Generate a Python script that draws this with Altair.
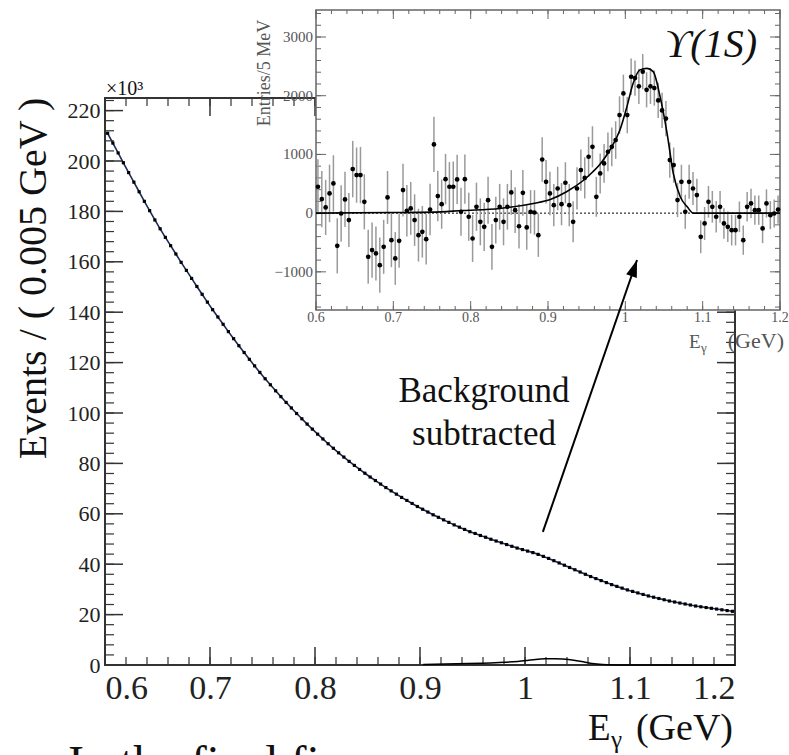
import altair as alt
import pandas as pd

SERIF = "Liberation Serif, Times New Roman, serif"

# ---------------- data ----------------
BIN_LO, BIN_W, N_BINS = 0.6, 0.005, 120
bin_centres = [round(BIN_LO + BIN_W * (i + 0.5), 4) for i in range(N_BINS)]

# main plot: events per 5 MeV bin, in units of 10^3
main_events_k = [
    211.0, 207.1, 203.2, 199.3, 195.4, 191.6, 187.8, 184.0, 180.3, 176.6,
    173.1, 169.7, 166.4, 163.1, 159.8, 156.6, 153.4, 150.2, 147.1, 144.0,
    141.0, 138.1, 135.2, 132.3, 129.5, 126.7, 124.0, 121.3, 118.7, 116.1,
    113.6, 111.2, 108.8, 106.5, 104.2, 102.0, 99.8, 97.7, 95.6, 93.6,
    91.6, 89.7, 87.8, 86.0, 84.2, 82.5, 80.8, 79.2, 77.6, 76.1,
    74.6, 73.2, 71.8, 70.4, 69.1, 67.8, 66.5, 65.3, 64.1, 62.9,
    61.8, 60.7, 59.6, 58.6, 57.6, 56.6, 55.6, 54.7, 53.8, 52.9,
    52.2, 51.4, 50.7, 49.9, 49.2, 48.5, 47.8, 47.1, 46.4, 45.8,
    45.2, 44.6, 43.9, 43.1, 42.3, 41.4, 40.5, 39.6, 38.7, 37.8,
    36.9, 36.0, 35.1, 34.3, 33.5, 32.7, 31.9, 31.2, 30.5, 29.8,
    29.2, 28.6, 28.0, 27.4, 26.9, 26.4, 25.9, 25.4, 25.0, 24.6,
    24.2, 23.8, 23.4, 23.1, 22.8, 22.5, 22.2, 21.9, 21.6, 21.3,
]

# inset: background-subtracted entries / 5 MeV and their errors
inset_entries = [
    449, 239, 97, 335, 506, -557, -6, 233, -119, 750,
    648, 648, 193, -744, -630, -687, -886, -574, 267, -460,
    -772, -471, 392, 40, 80, -119, -375, -318, -443, 62,
    1170, 290, 153, 579, 449, 449, 574, 23, 579, -62,
    -432, 108, -148, -233, 221, -574, -119, 108, -148, 108,
    352, 51, -223, 346, -244, 23, 11, -375, 914, 534,
    335, 136, 420, 153, 517, 136, -148, 420, 733, 600,
    960, 1130, 278, 676, 846, 1045, 1130, 1244, 1670, 2039,
    1670, 2323, 2300, 2160, 2410, 2100, 2160, 2130, 1920, 1750,
    1610, 903, 818, 222, 534, 23, 534, 420, 307, -403,
    -176, 193, 108, -62, 108, -176, -233, -290, -290, -62,
    -460, 108, 165, 51, 51, -261, 165, -34, -6, 60,
]
inset_errors = [
    470, 480, 470, 490, 480, 470, 480, 470, 460, 480,
    470, 480, 470, 460, 470, 460, 470, 460, 450, 460,
    450, 460, 450, 440, 450, 440, 450, 440, 430, 440,
    470, 430, 420, 430, 420, 430, 420, 410, 420, 410,
    400, 410, 400, 410, 400, 390, 400, 390, 400, 390,
    380, 390, 380, 390, 380, 370, 380, 370, 380, 370,
    370, 360, 370, 360, 350, 360, 350, 360, 350, 350,
    340, 350, 340, 340, 330, 330, 330, 320, 320, 320,
    310, 310, 300, 300, 300, 300, 300, 300, 300, 300,
    300, 300, 300, 290, 290, 290, 290, 280, 280, 280,
    280, 270, 270, 270, 270, 260, 260, 260, 260, 260,
    250, 250, 250, 250, 250, 250, 240, 240, 240, 240,
]

# signal fit curve (entries / 5 MeV)
fit_E = [0.60, 0.70, 0.75, 0.79, 0.838, 0.881, 0.903, 0.924, 0.946, 0.958,
         0.967, 0.980, 0.993, 1.002, 1.010, 1.019, 1.028, 1.036, 1.045,
         1.054, 1.062, 1.071, 1.080, 1.088, 1.20]
fit_entries = [0, 10, 17, 45, 80, 165, 233, 364, 560, 705,
               830, 1075, 1415, 1810, 2210, 2440, 2465, 2410, 1980,
               1360, 676, 278, 108, 0, 0]

main_x_ticks = [0.6, 0.7, 0.8, 0.9, 1.0, 1.1, 1.2]
main_y_ticks = [0, 20, 40, 60, 80, 100, 120, 140, 160, 180, 200, 220]
main_x_minor = [round(0.6 + 0.02 * i, 2) for i in range(31)]
main_y_minor = [4 * i for i in range(57)]
inset_x_labels = ["0.6", "0.7", "0.8", "0.9", "1", "1.1", "1.2"]
inset_y_ticks = [-1000, 0, 1000, 2000, 3000]
inset_y_minor = [-1600 + 200 * i for i in range(26)]

MAIN_X_DOMAIN = [0.6, 1.2]
MAIN_Y_DOMAIN = [0, 225]
INSET_Y_DOMAIN = [-1650, 3460]

# arrow (main-plot coordinates: GeV, 10^3 events)
arrow = pd.DataFrame({"x": [1.017], "y": [52.8], "x2": [1.1067], "y2": [160.7]})

# ---------------- layout ----------------
W, H = 630, 567
IX0, IX1 = 211, 675       # inset horizontal pixel range (inside plot group)
IYB, IYT = 212, -88       # inset vertical pixel range (bottom, top)

mx = alt.Scale(domain=MAIN_X_DOMAIN, nice=False, zero=False)
my = alt.Scale(domain=MAIN_Y_DOMAIN, nice=False, zero=False)
ix = alt.Scale(domain=MAIN_X_DOMAIN, range=[IX0, IX1], nice=False, zero=False)
iy = alt.Scale(domain=INSET_Y_DOMAIN, range=[IYB, IYT], nice=False, zero=False)

one = pd.DataFrame({"a": [0]})
main_df = pd.DataFrame({"E": bin_centres, "N": main_events_k})
inset_df = pd.DataFrame({"E": bin_centres, "v": inset_entries, "err": inset_errors})
inset_df["lo"] = inset_df["v"] - inset_df["err"]
inset_df["hi"] = inset_df["v"] + inset_df["err"]
fit_df = pd.DataFrame({"E": fit_E, "v": fit_entries})


def yticks(values, scale, x0, x1, color, width):
    return alt.Chart(pd.DataFrame({"v": values})).mark_rule(
        color=color, strokeWidth=width).encode(
        y=alt.Y("v:Q", scale=scale, axis=None), x=alt.value(x0), x2=alt.value(x1))


def xticks(values, scale, y0, y1, color, width):
    return alt.Chart(pd.DataFrame({"v": values})).mark_rule(
        color=color, strokeWidth=width).encode(
        x=alt.X("v:Q", scale=scale, axis=None), y=alt.value(y0), y2=alt.value(y1))


def label(text, x, y, size, align="left", baseline="alphabetic", color="#111", **kw):
    return alt.Chart(one).mark_text(
        text=text, font=SERIF, fontSize=size, align=align, baseline=baseline,
        color=color, **kw).encode(x=alt.value(x), y=alt.value(y))


layers = []

# main fit line carries the main axes' labels
main_line = alt.Chart(main_df).mark_line(color="#1c2a5a", strokeWidth=1.6).encode(
    x=alt.X("E:Q", scale=mx, axis=alt.Axis(
        orient="bottom", values=main_x_ticks, format="~g", ticks=False, domain=False,
        grid=False, labelFont=SERIF, labelFontSize=34, labelColor="#222",
        labelPadding=6, title=None)),
    y=alt.Y("N:Q", scale=my, axis=alt.Axis(
        orient="left", values=main_y_ticks, format="d", ticks=False, domain=False,
        grid=False, labelFont=SERIF, labelFontSize=22, labelColor="#222",
        labelPadding=5, title="Events / ( 0.005 GeV )", titleFont=SERIF,
        titleFontSize=40, titleFontWeight="normal", titleColor="#111",
        titleAngle=270, titleX=-72, titleY=180, titleAlign="center",
        titleBaseline="middle")),
)
layers.append(main_line)

# main frame and ticks (ticks point inwards)
FR = "#333"
layers.append(alt.Chart(one).mark_rect(fillOpacity=0, stroke=FR, strokeWidth=2).encode(
    x=alt.value(0), x2=alt.value(W), y=alt.value(0), y2=alt.value(H)))
layers += [
    yticks(main_y_ticks, my, 0, 18, FR, 1.5), yticks(main_y_minor, my, 0, 9, FR, 1.2),
    yticks(main_y_ticks, my, W, W - 18, FR, 1.5), yticks(main_y_minor, my, W, W - 9, FR, 1.2),
    xticks(main_x_ticks, mx, H, H - 18, FR, 1.5), xticks(main_x_minor, mx, H, H - 8, FR, 1.2),
    xticks(main_x_ticks, mx, 0, 18, FR, 1.5), xticks(main_x_minor, mx, 0, 8, FR, 1.2),
]

# main data points
layers.append(alt.Chart(main_df).mark_square(size=10, color="#000", opacity=1).encode(
    x=alt.X("E:Q", scale=mx, axis=None), y=alt.Y("N:Q", scale=my, axis=None)))

# signal component near zero in the main plot
layers.append(alt.Chart(fit_df).transform_filter("datum.E >= 0.9").transform_calculate(
    k="datum.v / 1000").mark_line(color="#000", strokeWidth=1.5, interpolate="monotone").encode(
    x=alt.X("E:Q", scale=mx, axis=None), y=alt.Y("k:Q", scale=my, axis=None)))

# ---------------- inset ----------------
IF = "#666"
layers.append(alt.Chart(pd.DataFrame({"x": [MAIN_X_DOMAIN[0]], "x2": [MAIN_X_DOMAIN[1]],
                                      "y": [INSET_Y_DOMAIN[0]], "y2": [INSET_Y_DOMAIN[1]]}))
              .mark_rect(fill="white", stroke=IF, strokeWidth=1.5).encode(
    x=alt.X("x:Q", scale=ix, axis=None), x2="x2:Q",
    y=alt.Y("y:Q", scale=iy, axis=None), y2="y2:Q"))
layers += [
    yticks(inset_y_ticks, iy, IX0, IX0 + 10, IF, 1), yticks(inset_y_minor, iy, IX0, IX0 + 5, IF, 1),
    yticks(inset_y_ticks, iy, IX1, IX1 - 10, IF, 1), yticks(inset_y_minor, iy, IX1, IX1 - 5, IF, 1),
    xticks(main_x_ticks, ix, IYB, IYB - 9, IF, 1), xticks(main_x_minor, ix, IYB, IYB - 4, IF, 1),
    xticks(main_x_ticks, ix, IYT, IYT + 9, IF, 1), xticks(main_x_minor, ix, IYT, IYT + 4, IF, 1),
]
# dotted zero line
layers.append(alt.Chart(pd.DataFrame({"x": [MAIN_X_DOMAIN[0]], "x2": [MAIN_X_DOMAIN[1]], "y": [0]}))
              .mark_rule(color="#000", strokeWidth=1, strokeDash=[2, 2]).encode(
    x=alt.X("x:Q", scale=ix, axis=None), x2="x2:Q", y=alt.Y("y:Q", scale=iy, axis=None)))
# error bars
layers.append(alt.Chart(inset_df).mark_rule(color="#9a9a9a", strokeWidth=1.5).encode(
    x=alt.X("E:Q", scale=ix, axis=None), y=alt.Y("lo:Q", scale=iy, axis=None), y2="hi:Q"))
# points
layers.append(alt.Chart(inset_df).mark_circle(size=22, color="#000", opacity=1).encode(
    x=alt.X("E:Q", scale=ix, axis=None), y=alt.Y("v:Q", scale=iy, axis=None)))
# fit line
layers.append(alt.Chart(fit_df).mark_line(color="#000", strokeWidth=1.6, interpolate="monotone").encode(
    x=alt.X("E:Q", scale=ix, axis=None), y=alt.Y("v:Q", scale=iy, axis=None)))
# inset tick labels
layers.append(alt.Chart(pd.DataFrame({"v": main_x_ticks, "t": inset_x_labels})).mark_text(
    font=SERIF, fontSize=14, color="#555", baseline="top", align="center").encode(
    x=alt.X("v:Q", scale=ix, axis=None), y=alt.value(IYB + 1), text="t:N"))
layers.append(alt.Chart(pd.DataFrame({"v": inset_y_ticks})).mark_text(
    font=SERIF, fontSize=15, color="#555", baseline="middle", align="right").encode(
    y=alt.Y("v:Q", scale=iy, axis=None), x=alt.value(IX0 - 3), text=alt.Text("v:Q", format="d")))
layers.append(label("Entries/5 MeV", 160, -25, 18, align="center", baseline="middle",
                    color="#555", angle=270))
layers.append(label("E", 584, 250, 19, color="#555"))
layers.append(label("γ", 596, 254, 13, color="#555"))
layers.append(label("(GeV)", 679, 250, 22, align="right", color="#555"))
layers.append(label("ϒ(1S)", 652, -41, 40, align="right", fontStyle="italic"))

# arrow
layers.append(alt.Chart(arrow).mark_rule(color="#000", strokeWidth=2).encode(
    x=alt.X("x:Q", scale=mx, axis=None), x2="x2:Q",
    y=alt.Y("y:Q", scale=my, axis=None), y2="y2:Q"))
layers.append(alt.Chart(arrow).mark_point(
    shape="M0,0 L-0.33,1 L0.33,1 Z", filled=True, color="#000", opacity=1,
    size=1156, angle=19, strokeWidth=0).encode(
    x=alt.X("x2:Q", scale=mx, axis=None), y=alt.Y("y2:Q", scale=my, axis=None)))

# ---------------- annotations ----------------
layers.append(label("Background", 379, 304, 35, align="center"))
layers.append(label("subtracted", 379, 347, 35, align="center"))
layers.append(label("×10³", 1, -3, 20))
layers.append(label("E", 483, 642, 37))
layers.append(label("γ", 506, 650, 25))
layers.append(label("(GeV)", 628, 642, 38, align="right"))
layers.append(label("In the final fi", -37, 681, 48))

chart = alt.layer(*layers).resolve_scale(x="independent", y="independent").properties(
    width=W, height=H,
    padding={"left": 105, "top": 98, "right": 54, "bottom": 90},
    autosize=alt.AutoSizeParams(type="none"),
).configure_view(strokeWidth=0).configure(background="white")

chart.save("out.html", embed_options={"renderer": "svg", "actions": False})
